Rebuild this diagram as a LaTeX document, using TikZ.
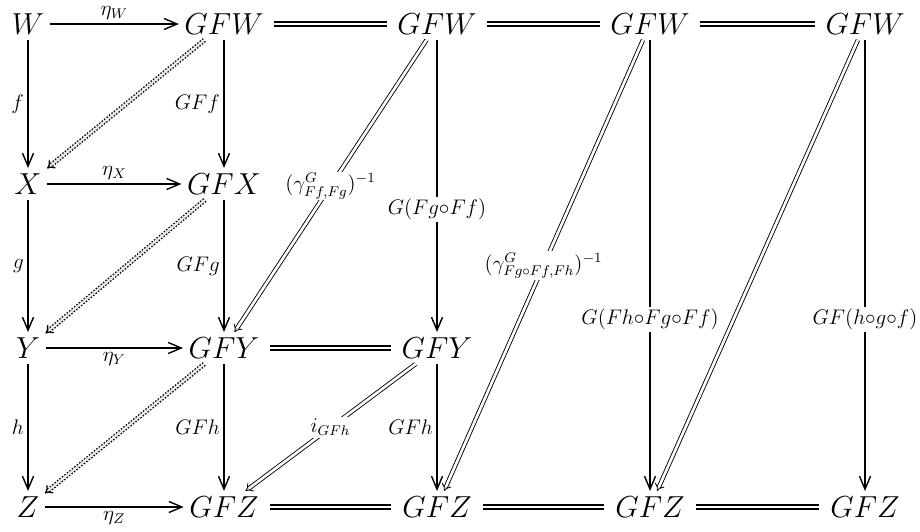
\documentclass[tikz,border=0pt]{standalone}
\usepackage{amsmath,amssymb}
\usepackage{tikz}
\usetikzlibrary{arrows.meta}

\begin{document}
\begin{tikzpicture}[
  obj/.style={font=\fontsize{16.5}{20}\selectfont,inner sep=3pt},
  lbl/.style={font=\fontsize{12}{14}\selectfont,inner sep=2pt},
  cut/.style={lbl,fill=white,inner sep=1pt},
  map/.style={line width=0.8pt,-{Straight Barb[length=2.6mm,width=2.2mm]}},
  eq/.style={double,line width=0.8pt,double distance=1.3pt,shorten <=3pt,shorten >=3pt},
  cell/.style={double,line width=0.5pt,double distance=1.5pt,-{Implies}},
  dcell/.style={cell,line width=0.75pt,double distance=1.2pt,dash pattern=on 0.9pt off 0.9pt}
]
  \useasboundingbox (0,0) rectangle (18.4,10.62);
  \node[obj] (W)    at (0.56,10.14) {$W$};
  \node[obj] (GFW)  at (4.48,10.14) {$GFW$};
  \node[obj] (GFWb) at (8.74,10.14) {$GFW$};
  \node[obj] (GFWc) at (13.0,10.14) {$GFW$};
  \node[obj] (GFWd) at (17.3,10.14) {$GFW$};
  \node[obj] (X)    at (0.56,6.94) {$X$};
  \node[obj] (GFX)  at (4.48,6.94) {$GFX$};
  \node[obj] (Y)    at (0.56,3.66) {$Y$};
  \node[obj] (GFY)  at (4.48,3.66) {$GFY$};
  \node[obj] (GFYb) at (8.74,3.66) {$GFY$};
  \node[obj] (Z)    at (0.56,0.48) {$Z$};
  \node[obj] (GFZ)  at (4.48,0.48) {$GFZ$};
  \node[obj] (GFZb) at (8.74,0.48) {$GFZ$};
  \node[obj] (GFZc) at (13.0,0.48) {$GFZ$};
  \node[obj] (GFZd) at (17.3,0.48) {$GFZ$};

  \draw[map] (W) -- node[lbl,above] {$\eta_W$} (GFW);
  \draw[map] (X) -- node[lbl,above] {$\eta_X$} (GFX);
  \draw[map] (Y) -- node[lbl,below] {$\eta_Y$} (GFY);
  \draw[map] (Z) -- node[lbl,below] {$\eta_Z$} (GFZ);
  \draw[map] (W) -- node[lbl,left] {$f$} (X);
  \draw[map] (X) -- node[lbl,left] {$g$} (Y);
  \draw[map] (Y) -- node[lbl,left] {$h$} (Z);
  \draw[map] (GFW) -- node[lbl,left] {$GFf$} (GFX);
  \draw[map] (GFX) -- node[lbl,left] {$GFg$} (GFY);
  \draw[map] (GFY) -- node[lbl,left] {$GFh$} (GFZ);
  \draw[map] (GFWb) -- node[cut,pos=0.58] {$G(Fg{\circ}Ff)$} (GFYb);
  \draw[map] (GFYb) -- node[lbl,left] {$GFh$} (GFZb);
  \draw[map] (GFWc) -- node[cut,pos=0.62] {$G(Fh{\circ}Fg{\circ}Ff)$} (GFZc);
  \draw[map] (GFWd) -- node[cut,pos=0.62] {$GF(h{\circ}g{\circ}f)$} (GFZd);

  \draw[eq] (GFW) -- (GFWb);
  \draw[eq] (GFWb) -- (GFWc);
  \draw[eq] (GFWc) -- (GFWd);
  \draw[eq] (GFY) -- (GFYb);
  \draw[eq] (GFZ) -- (GFZb);
  \draw[eq] (GFZb) -- (GFZc);
  \draw[eq] (GFZc) -- (GFZd);

  \draw[dcell] (GFW) -- (X);
  \draw[dcell] (GFX) -- (Y);
  \draw[dcell] (GFY) -- (Z);
  \draw[cell] (GFWb) -- node[cut] {$(\gamma^G_{Ff,Fg})^{-1}$} (GFY);
  \draw[cell] (GFYb) -- node[cut] {$i_{GFh}$} (GFZ);
  \draw[cell] (GFWc) -- node[cut] {$(\gamma^G_{Fg{\circ}Ff,Fh})^{-1}$} (GFZb);
  \draw[cell] (GFWd) -- (GFZc);
\end{tikzpicture}
\end{document}
